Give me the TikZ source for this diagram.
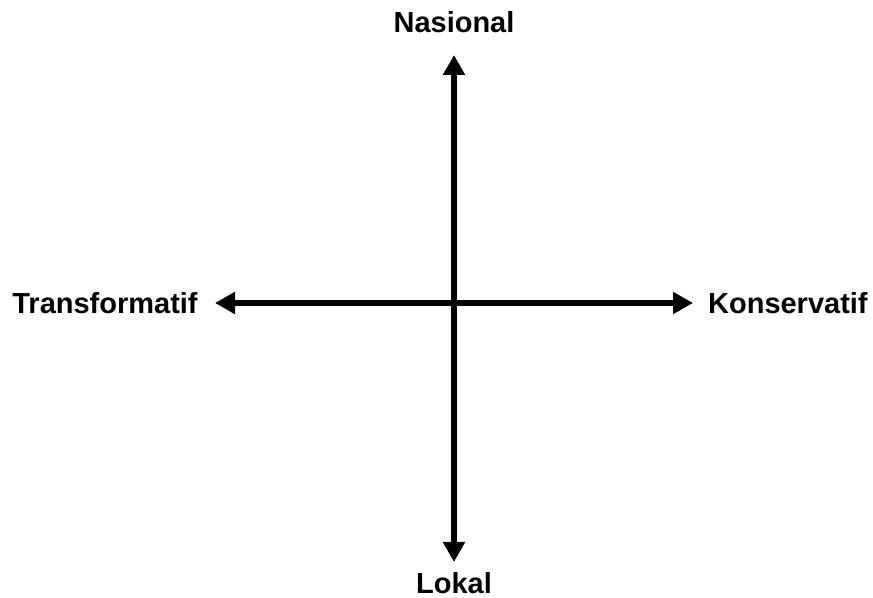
\documentclass[tikz,border=0pt]{standalone}
\usepackage{fontspec}
\setmainfont{Liberation Sans}
\usetikzlibrary{arrows.meta}
\begin{document}
\begin{tikzpicture}
[   axis/.style={line width=3.4pt, {Triangle[length=4mm,width=4.2mm]}-{Triangle[length=4mm,width=4.2mm]}},
    label/.style={font=\bfseries\fontsize{16.5}{18}\selectfont, inner sep=0}
]
    \useasboundingbox (0,0) rectangle (17.46,11.96);
    \coordinate (N) at (9.08,10.86);
    \coordinate (S) at (9.08,0.72);
    \coordinate (W) at (4.30,5.90);
    \coordinate (E) at (13.86,5.90);
    \draw[axis] (N) -- (S);
    \draw[axis] (W) -- (E);

    \node[label] (nasional) at (9.08,11.52) {Nasional};
    \node[label] (lokal) at (9.08,0.30) {Lokal};
    \node[label, anchor=west] (transformatif) at (0.24,5.90) {Transformatif};
    \node[label, anchor=east] (konservatif) at (17.36,5.90) {Konservatif};
\end{tikzpicture}
\end{document}
